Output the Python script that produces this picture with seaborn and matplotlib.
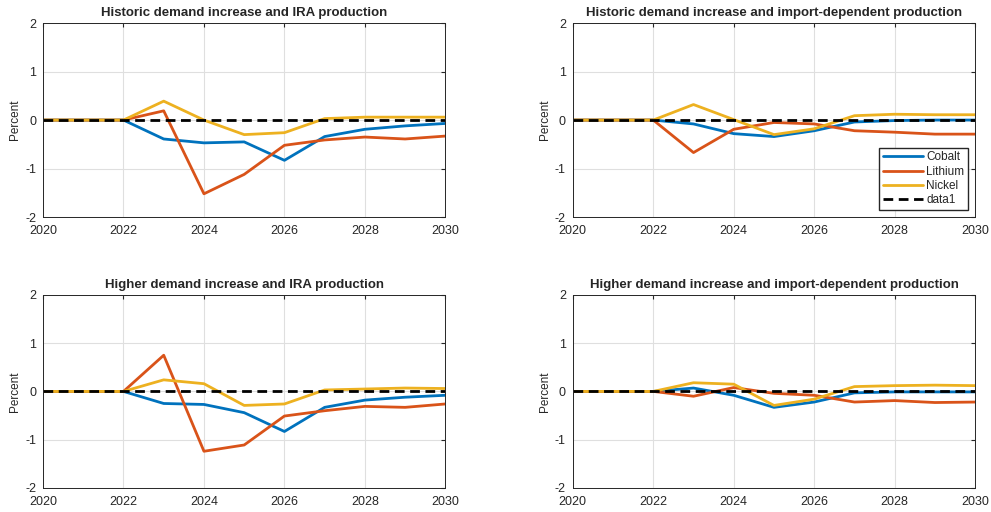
import matplotlib
matplotlib.use("Agg")
import matplotlib.pyplot as plt
import seaborn as sns
import pandas as pd

years = list(range(2020, 2031))
metals = ["Cobalt", "Lithium", "Nickel"]
colors = ["#0072BD", "#D95319", "#EDB120"]

titles = [
    "Historic demand increase and IRA production",
    "Historic demand increase and import-dependent production",
    "Higher demand increase and IRA production",
    "Higher demand increase and import-dependent production",
]

# values per panel, 2020..2030
hist_ira_cobalt = [0, 0, 0, -0.39, -0.47, -0.45, -0.83, -0.34, -0.19, -0.12, -0.07]
hist_ira_lithium = [0, 0, 0, 0.19, -1.52, -1.12, -0.52, -0.41, -0.35, -0.39, -0.33]
hist_ira_nickel = [0, 0, 0, 0.39, 0.0, -0.30, -0.26, 0.03, 0.06, 0.06, 0.06]

hist_imp_cobalt = [0, 0, 0, -0.08, -0.28, -0.34, -0.22, -0.04, -0.01, 0.0, 0.0]
hist_imp_lithium = [0, 0, 0, -0.67, -0.19, -0.05, -0.08, -0.22, -0.25, -0.29, -0.29]
hist_imp_nickel = [0, 0, 0, 0.32, 0.01, -0.30, -0.18, 0.09, 0.12, 0.11, 0.11]

high_ira_cobalt = [0, 0, 0, -0.25, -0.27, -0.44, -0.83, -0.33, -0.18, -0.12, -0.08]
high_ira_lithium = [0, 0, 0, 0.75, -1.24, -1.11, -0.51, -0.40, -0.31, -0.33, -0.26]
high_ira_nickel = [0, 0, 0, 0.24, 0.16, -0.29, -0.26, 0.03, 0.05, 0.07, 0.06]

high_imp_cobalt = [0, 0, 0, 0.07, -0.08, -0.33, -0.22, -0.03, -0.01, -0.01, -0.01]
high_imp_lithium = [0, 0, 0, -0.10, 0.08, -0.04, -0.08, -0.22, -0.19, -0.23, -0.22]
high_imp_nickel = [0, 0, 0, 0.18, 0.15, -0.29, -0.16, 0.10, 0.12, 0.13, 0.12]

zero_line = [0] * len(years)

panels = [
    [hist_ira_cobalt, hist_ira_lithium, hist_ira_nickel],
    [hist_imp_cobalt, hist_imp_lithium, hist_imp_nickel],
    [high_ira_cobalt, high_ira_lithium, high_ira_nickel],
    [high_imp_cobalt, high_imp_lithium, high_imp_nickel],
]

sns.set_style("white")
plt.rcParams["font.family"] = ["Liberation Sans", "DejaVu Sans"]
plt.rcParams["axes.unicode_minus"] = False

fig = plt.figure(figsize=(9.91, 5.12), dpi=100)
boxes = [
    [0.0434, 0.576, 0.406, 0.379],
    [0.578, 0.576, 0.406, 0.379],
    [0.0434, 0.047, 0.406, 0.377],
    [0.578, 0.047, 0.406, 0.377],
]

for i, (box, series) in enumerate(zip(boxes, panels)):
    ax = fig.add_axes(box)
    rows = []
    for m, vals in zip(metals, series):
        for y, v in zip(years, vals):
            rows.append({"year": y, "value": v, "metal": m})
    df = pd.DataFrame(rows)
    sns.lineplot(data=df, x="year", y="value", hue="metal", palette=colors,
                 linewidth=2, ax=ax, legend=(i == 1))
    ax.plot(years, zero_line, color="black", linestyle=(0, (3.5, 2)),
            linewidth=2, label="data1")
    ax.set_xlim(2020, 2030)
    ax.set_ylim(-2, 2)
    ax.set_xticks(range(2020, 2031, 2))
    ax.set_yticks([-2, -1, 0, 1, 2])
    ax.grid(True, color="#dfdfdf", linewidth=0.8)
    ax.tick_params(direction="in", labelsize=9, length=3, color="#262626",
                   top=True, right=True, labelcolor="#262626")
    ax.tick_params(axis="x", pad=6)
    ax.tick_params(axis="y", pad=5)
    for s in ax.spines.values():
        s.set_color("#262626")
        s.set_linewidth(0.7)
    ax.set_xlabel("")
    ax.set_ylabel("Percent", fontsize=8.5, color="#262626", labelpad=3)
    ax.set_title(titles[i], fontsize=9.5, fontweight="bold", pad=5)
    if i == 1:
        h, l = ax.get_legend_handles_labels()
        ax.legend(h, l, loc="lower right", fontsize=8.5, frameon=True,
                  fancybox=False, edgecolor="#262626", framealpha=1,
                  borderpad=0.3, labelspacing=0.2, handlelength=3.4,
                  handletextpad=0.3, borderaxespad=0.6)

fig.savefig("out.png", dpi=100)
